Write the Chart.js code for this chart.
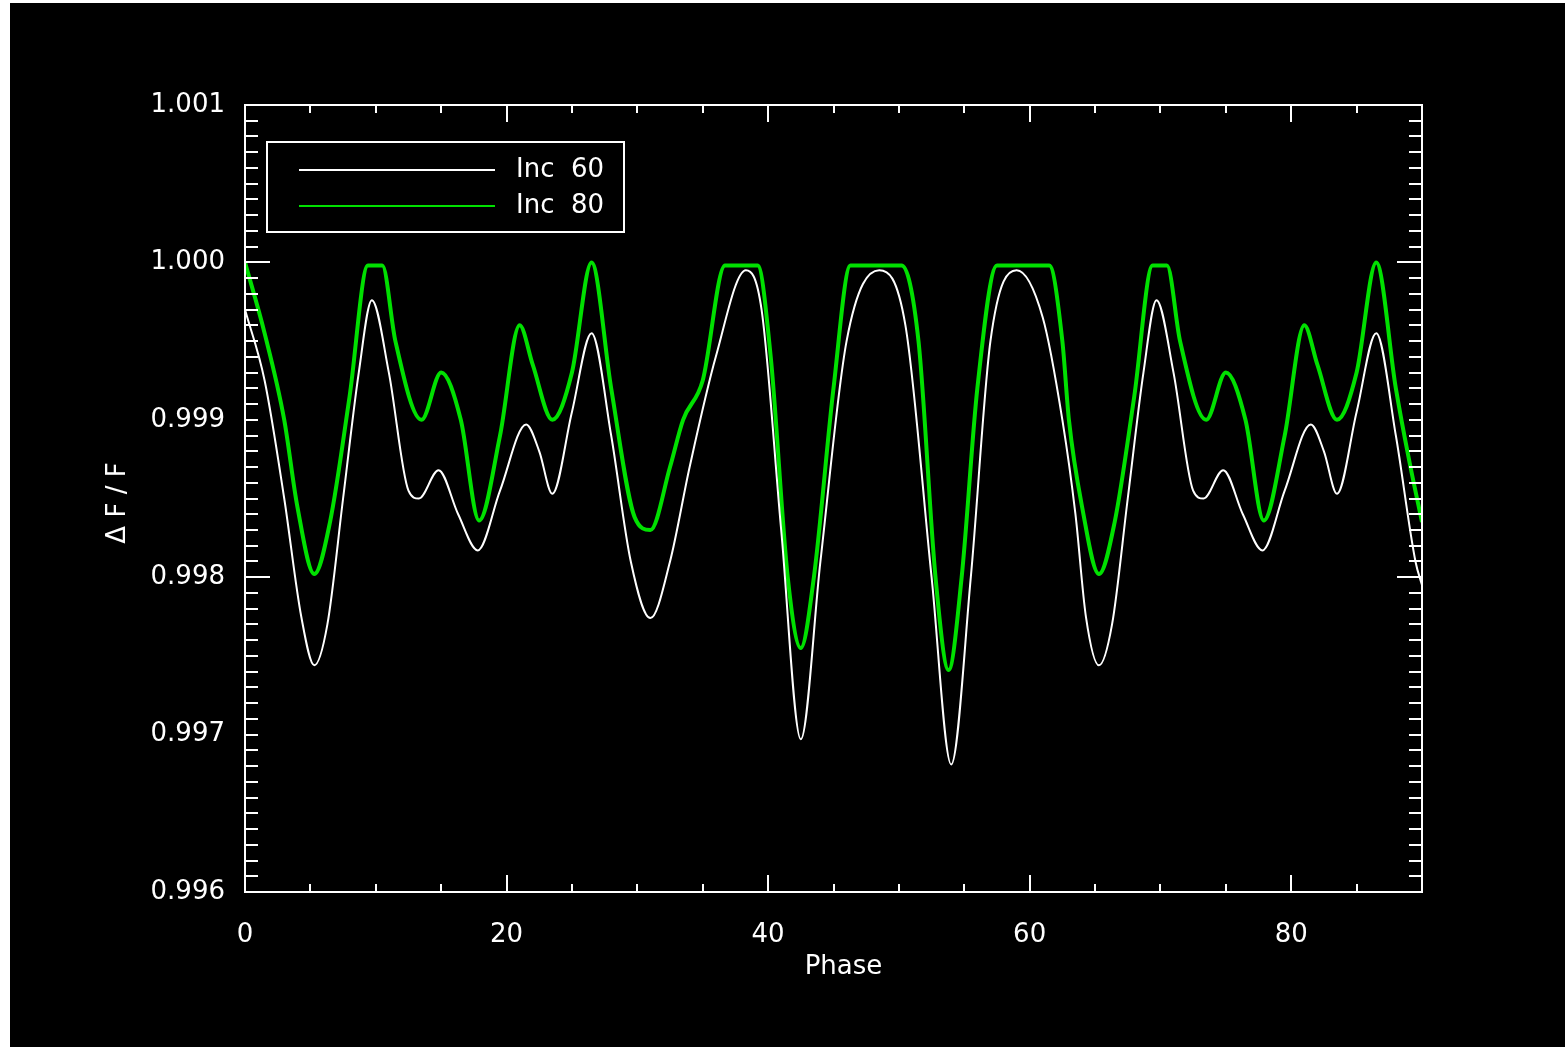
<!DOCTYPE html>
<html>
<head>
<meta charset="utf-8">
<script src="https://cdn.jsdelivr.net/npm/chart.js@4.4.1/dist/chart.umd.min.js"></script>
<style>
  html, body { margin: 0; padding: 0; background: #fff; width: 1565px; height: 1047px; overflow: hidden; }
  #wrap { position: absolute; left: 10px; top: 3px; width: 1555px; height: 1044px; background: #000; }
</style>
</head>
<body>
<div id="wrap"><canvas id="c" width="1555" height="1044"></canvas></div>
<script>
// ==================
// Data
// ==================
const phase80 = [0, 1.5, 3, 4, 5.3, 6.5, 8, 9.4, 10.5, 11.5, 13.5, 15, 16.5, 17.9, 19.5, 21, 22, 23.5, 25, 26.5, 28, 29.8,
  31, 32.5, 33.5, 35, 36.7, 39.2, 40.2, 41.5, 42.5, 43.5, 45, 46.3, 50.2, 51.5, 52.8, 53.8, 54.8, 56, 57.5, 61.5, 62.5,
  63, 64, 65.3, 66.5, 68, 69.4, 70.5, 71.5, 73.5, 75, 76.5, 77.9, 79.5, 81, 82, 83.5, 85, 86.5, 88, 89, 90];
const inc80 = [1.0000, 0.99955, 0.99900, 0.99845, 0.99802, 0.99835, 0.99915, 0.99998, 0.99998, 0.99950, 0.99900, 0.99930,
  0.99900, 0.99836, 0.99890, 0.99960, 0.99935, 0.99900, 0.99930, 1.00000, 0.99920, 0.99838,
  0.99830, 0.99870, 0.99900, 0.99925, 0.99998, 0.99998, 0.99940, 0.99800, 0.99755, 0.99800, 0.99920, 0.99998, 0.99998,
  0.99950, 0.99800, 0.99741, 0.99800, 0.99920, 0.99998, 0.99998, 0.99950,
  0.99900, 0.99845, 0.99802, 0.99835, 0.99915, 0.99998, 0.99998, 0.99950, 0.99900, 0.99930, 0.99900, 0.99836, 0.99890,
  0.99960, 0.99935, 0.99900, 0.99930, 1.00000, 0.99920, 0.99875, 0.99835];

const phase60 = [0, 1.5, 3, 4.3, 5.3, 6.3, 7.5, 8.7, 9.7, 11, 12.5, 13.3, 14.8, 16.3, 17.8, 19.5, 21.5, 22.5, 23.5, 25, 26.5,
  28, 29.5, 31, 32.5, 34, 36, 38.3, 39.5, 41, 42.5, 44, 46, 48.5, 50.5, 52.5, 54, 55.5, 57, 59, 61, 62.5,
  63.5, 64.3, 65.3, 66.3, 67.5, 68.7, 69.7, 71, 72.5, 73.3, 74.8, 76.3, 77.8, 79.5, 81.5, 82.5, 83.5, 85, 86.5, 88, 89.5, 90];
const inc60 = [0.99970, 0.99925, 0.99850, 0.99775, 0.99744, 0.99770, 0.99850, 0.99930, 0.99976, 0.99930, 0.99855, 0.99850,
  0.99868, 0.99840, 0.99817, 0.99855, 0.99897, 0.99880, 0.99853, 0.99905, 0.99955,
  0.99890, 0.99810, 0.99774, 0.99810, 0.99870, 0.99940, 0.99995, 0.99970, 0.99830, 0.99697, 0.99810, 0.99950, 0.99995,
  0.99960, 0.99800, 0.99681, 0.99800, 0.99950, 0.99995, 0.99965, 0.99900,
  0.99840, 0.99775, 0.99744, 0.99770, 0.99850, 0.99930, 0.99976, 0.99930, 0.99855, 0.99850, 0.99868, 0.99840, 0.99817,
  0.99855, 0.99897, 0.99880, 0.99853, 0.99905, 0.99955, 0.99890, 0.99810, 0.99795];

const xTicks = [0, 20, 40, 60, 80];
const yTicks = [0.996, 0.997, 0.998, 0.999, 1.000, 1.001];
const seriesNames = ["Inc 60", "Inc 80"];
const seriesColors = ["#ffffff", "#00e000"];

const FONT = "DejaVu Sans";

// ==================
// Frame, minor ticks, titles, legend
// ==================
const idlFrame = {
  id: "idlFrame",
  afterDatasetsDraw(chart) {
    const { ctx, chartArea: a, scales: { x, y } } = chart;
    ctx.save();
    ctx.strokeStyle = "#fff";
    ctx.lineWidth = 2;
    ctx.strokeRect(a.left, a.top, a.right - a.left, a.bottom - a.top);
    ctx.beginPath();
    for (let v = 0; v <= 90; v += 5) {
      const px = Math.round(x.getPixelForValue(v));
      const len = v % 20 === 0 ? 17 : 8;
      ctx.moveTo(px, a.bottom); ctx.lineTo(px, a.bottom - len);
      ctx.moveTo(px, a.top); ctx.lineTo(px, a.top + len);
    }
    for (let i = 0; i <= 50; i++) {
      const v = 0.996 + i * 0.0001;
      const py = Math.round(y.getPixelForValue(v));
      const len = i % 20 === 0 ? 25 : 13;
      ctx.moveTo(a.left, py); ctx.lineTo(a.left + len, py);
      ctx.moveTo(a.right, py); ctx.lineTo(a.right - len, py);
    }
    ctx.stroke();

    // axis titles
    ctx.fillStyle = "#fff";
    ctx.font = "26px " + FONT;
    ctx.textAlign = "center";
    ctx.textBaseline = "middle";
    ctx.fillText("Phase", (a.left + a.right) / 2 + 10, 964);
    ctx.save();
    ctx.translate(108, 500);
    ctx.rotate(-Math.PI / 2);
    ctx.fillText("\u0394 F / F", 0, 0);
    ctx.restore();

    // legend box
    ctx.lineWidth = 2;
    ctx.strokeRect(257, 139, 357, 90);
    seriesNames.forEach((name, i) => {
      const ly = 167 + i * 36;
      ctx.strokeStyle = seriesColors[i];
      ctx.beginPath(); ctx.moveTo(289, ly); ctx.lineTo(485, ly); ctx.stroke();
      ctx.fillStyle = "#fff";
      ctx.textAlign = "left";
      ctx.fillText(name.replace(" ", "  "), 506, ly);
    });
    ctx.restore();
  }
};

const toPoints = (xs, ys) => xs.map((v, i) => ({ x: v, y: ys[i] }));

new Chart(document.getElementById("c"), {
  type: "line",
  data: {
    datasets: [
      { label: seriesNames[0], data: toPoints(phase60, inc60), borderColor: seriesColors[0], borderWidth: 2,
        pointRadius: 0, cubicInterpolationMode: "monotone" },
      { label: seriesNames[1], data: toPoints(phase80, inc80), borderColor: seriesColors[1], borderWidth: 4,
        pointRadius: 0, cubicInterpolationMode: "monotone" }
    ]
  },
  options: {
    responsive: false,
    animation: false,
    layout: { padding: { top: 102, right: 143, left: 0, bottom: 0 } },
    plugins: { legend: { display: false }, tooltip: { enabled: false } },
    scales: {
      x: {
        type: "linear", min: 0, max: 90,
        afterBuildTicks: s => { s.ticks = xTicks.map(v => ({ value: v })); },
        afterFit: s => { s.height = 155; },
        grid: { display: false }, border: { display: false },
        ticks: { color: "#fff", font: { family: FONT, size: 26 }, padding: 20, maxRotation: 0 }
      },
      y: {
        type: "linear", min: 0.996, max: 1.001,
        afterBuildTicks: s => { s.ticks = yTicks.map(v => ({ value: v })); },
        afterFit: s => { s.width = 235; },
        grid: { display: false }, border: { display: false },
        ticks: { color: "#fff", font: { family: FONT, size: 26 }, padding: 12, callback: v => v.toFixed(3) }
      }
    }
  },
  plugins: [idlFrame]
});
</script>
</body>
</html>
